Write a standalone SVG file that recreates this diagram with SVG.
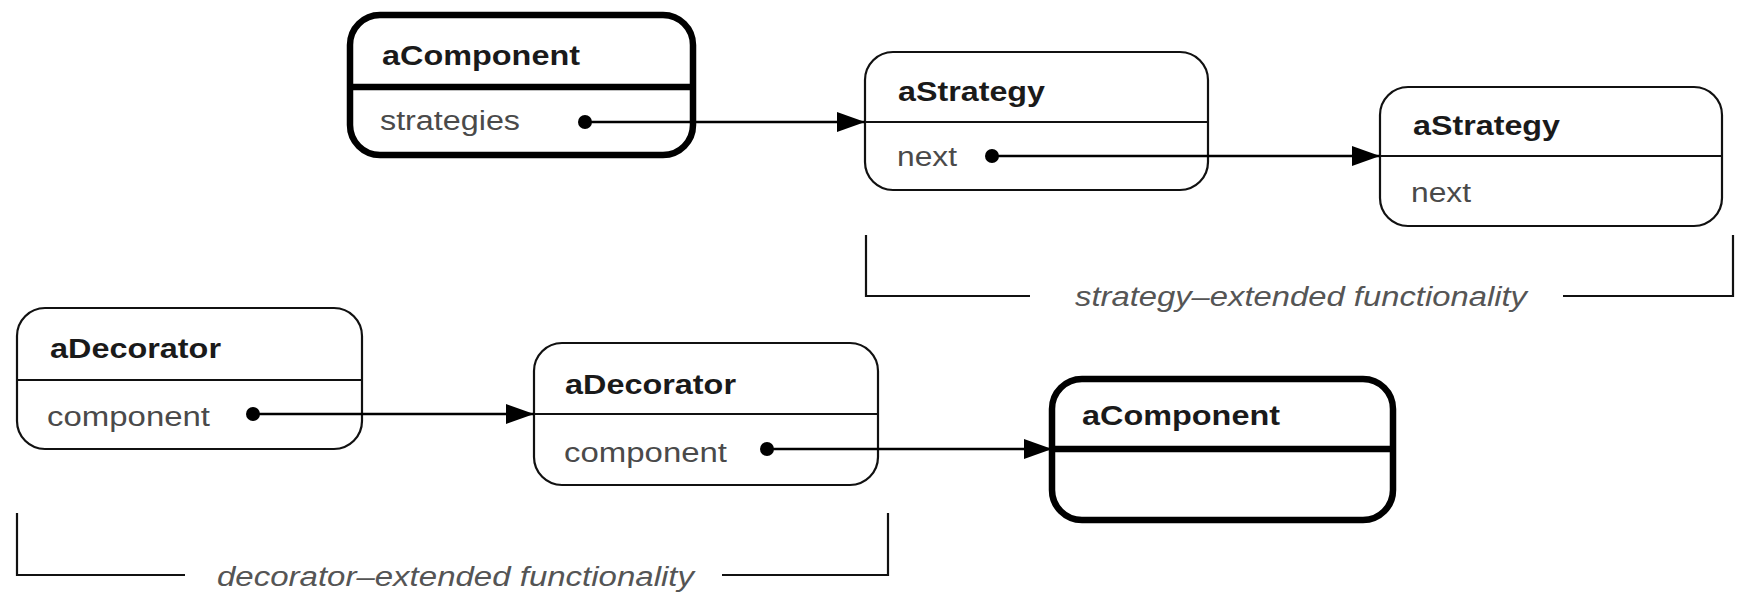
<svg xmlns="http://www.w3.org/2000/svg" width="1741" height="596" viewBox="0 0 1741 596">
<style>
.thin{fill:#fff;stroke:#111;stroke-width:2.2}
.thick{fill:#fff;stroke:#000;stroke-width:6.5}
.div{stroke:#111;stroke-width:2.2}
.divk{stroke:#000;stroke-width:6.5}
.title{font-family:"Liberation Sans",Arial,sans-serif;font-weight:bold;font-size:27px;fill:#1a1a1a}
.attr{font-family:"Liberation Sans",Arial,sans-serif;font-size:27px;fill:#4a4a4a}
.lbl{font-family:"Liberation Sans",Arial,sans-serif;font-style:italic;font-size:27px;fill:#555}
.con{stroke:#000;stroke-width:2.4;fill:none}
.br{stroke:#111;stroke-width:2.2;fill:none}
</style>
<defs>
<marker id="ah" markerWidth="28" markerHeight="22" refX="28" refY="11" orient="auto" markerUnits="userSpaceOnUse">
<polygon points="0,1 28,11 0,21" fill="#000"/>
</marker>
</defs>
<rect width="1741" height="596" fill="#fff"/>

<g id="aComponent1">
<rect class="thick" x="350" y="15" width="343" height="140" rx="30" ry="30"/>
<line class="divk" x1="350" y1="87" x2="693" y2="87"/>
<text class="title" x="382" y="65" textLength="198" lengthAdjust="spacingAndGlyphs">aComponent</text>
<text class="attr" x="380" y="130" textLength="140" lengthAdjust="spacingAndGlyphs">strategies</text>
</g>

<g id="aStrategy1">
<rect class="thin" x="865" y="52" width="343" height="138" rx="28" ry="28"/>
<line class="div" x1="865" y1="122" x2="1208" y2="122"/>
<text class="title" x="898" y="101" textLength="147" lengthAdjust="spacingAndGlyphs">aStrategy</text>
<text class="attr" x="897" y="166" textLength="60" lengthAdjust="spacingAndGlyphs">next</text>
</g>

<g id="aStrategy2">
<rect class="thin" x="1380" y="87" width="342" height="139" rx="28" ry="28"/>
<line class="div" x1="1380" y1="156" x2="1722" y2="156"/>
<text class="title" x="1413" y="135" textLength="147" lengthAdjust="spacingAndGlyphs">aStrategy</text>
<text class="attr" x="1411" y="202" textLength="60" lengthAdjust="spacingAndGlyphs">next</text>
</g>

<g id="aDecorator1">
<rect class="thin" x="17" y="308" width="345" height="141" rx="28" ry="28"/>
<line class="div" x1="17" y1="380" x2="362" y2="380"/>
<text class="title" x="50" y="358" textLength="171" lengthAdjust="spacingAndGlyphs">aDecorator</text>
<text class="attr" x="47" y="426" textLength="163" lengthAdjust="spacingAndGlyphs">component</text>
</g>

<g id="aDecorator2">
<rect class="thin" x="534" y="343" width="344" height="142" rx="28" ry="28"/>
<line class="div" x1="534" y1="414" x2="878" y2="414"/>
<text class="title" x="565" y="394" textLength="171" lengthAdjust="spacingAndGlyphs">aDecorator</text>
<text class="attr" x="564" y="462" textLength="163" lengthAdjust="spacingAndGlyphs">component</text>
</g>

<g id="aComponent2">
<rect class="thick" x="1052" y="379" width="341" height="141" rx="30" ry="30"/>
<line class="divk" x1="1052" y1="449" x2="1393" y2="449"/>
<text class="title" x="1082" y="425" textLength="198" lengthAdjust="spacingAndGlyphs">aComponent</text>
</g>

<g id="connectors">
<circle cx="585" cy="122" r="7" fill="#000"/>
<line class="con" x1="585" y1="122" x2="865" y2="122" marker-end="url(#ah)"/>
<circle cx="992" cy="156" r="7" fill="#000"/>
<line class="con" x1="992" y1="156" x2="1380" y2="156" marker-end="url(#ah)"/>
<circle cx="253" cy="414" r="7" fill="#000"/>
<line class="con" x1="253" y1="414" x2="534" y2="414" marker-end="url(#ah)"/>
<circle cx="767" cy="449" r="7" fill="#000"/>
<line class="con" x1="767" y1="449" x2="1052" y2="449" marker-end="url(#ah)"/>
</g>

<g id="strategyBracket">
<path class="br" d="M866,235 V296 H1030"/>
<path class="br" d="M1563,296 H1733 V235"/>
<text class="lbl" x="1075" y="306" textLength="452" lengthAdjust="spacingAndGlyphs">strategy–extended functionality</text>
</g>

<g id="decoratorBracket">
<path class="br" d="M17,513 V575 H185"/>
<path class="br" d="M722,575 H888 V513"/>
<text class="lbl" x="217" y="586" textLength="477" lengthAdjust="spacingAndGlyphs">decorator–extended functionality</text>
</g>
</svg>
